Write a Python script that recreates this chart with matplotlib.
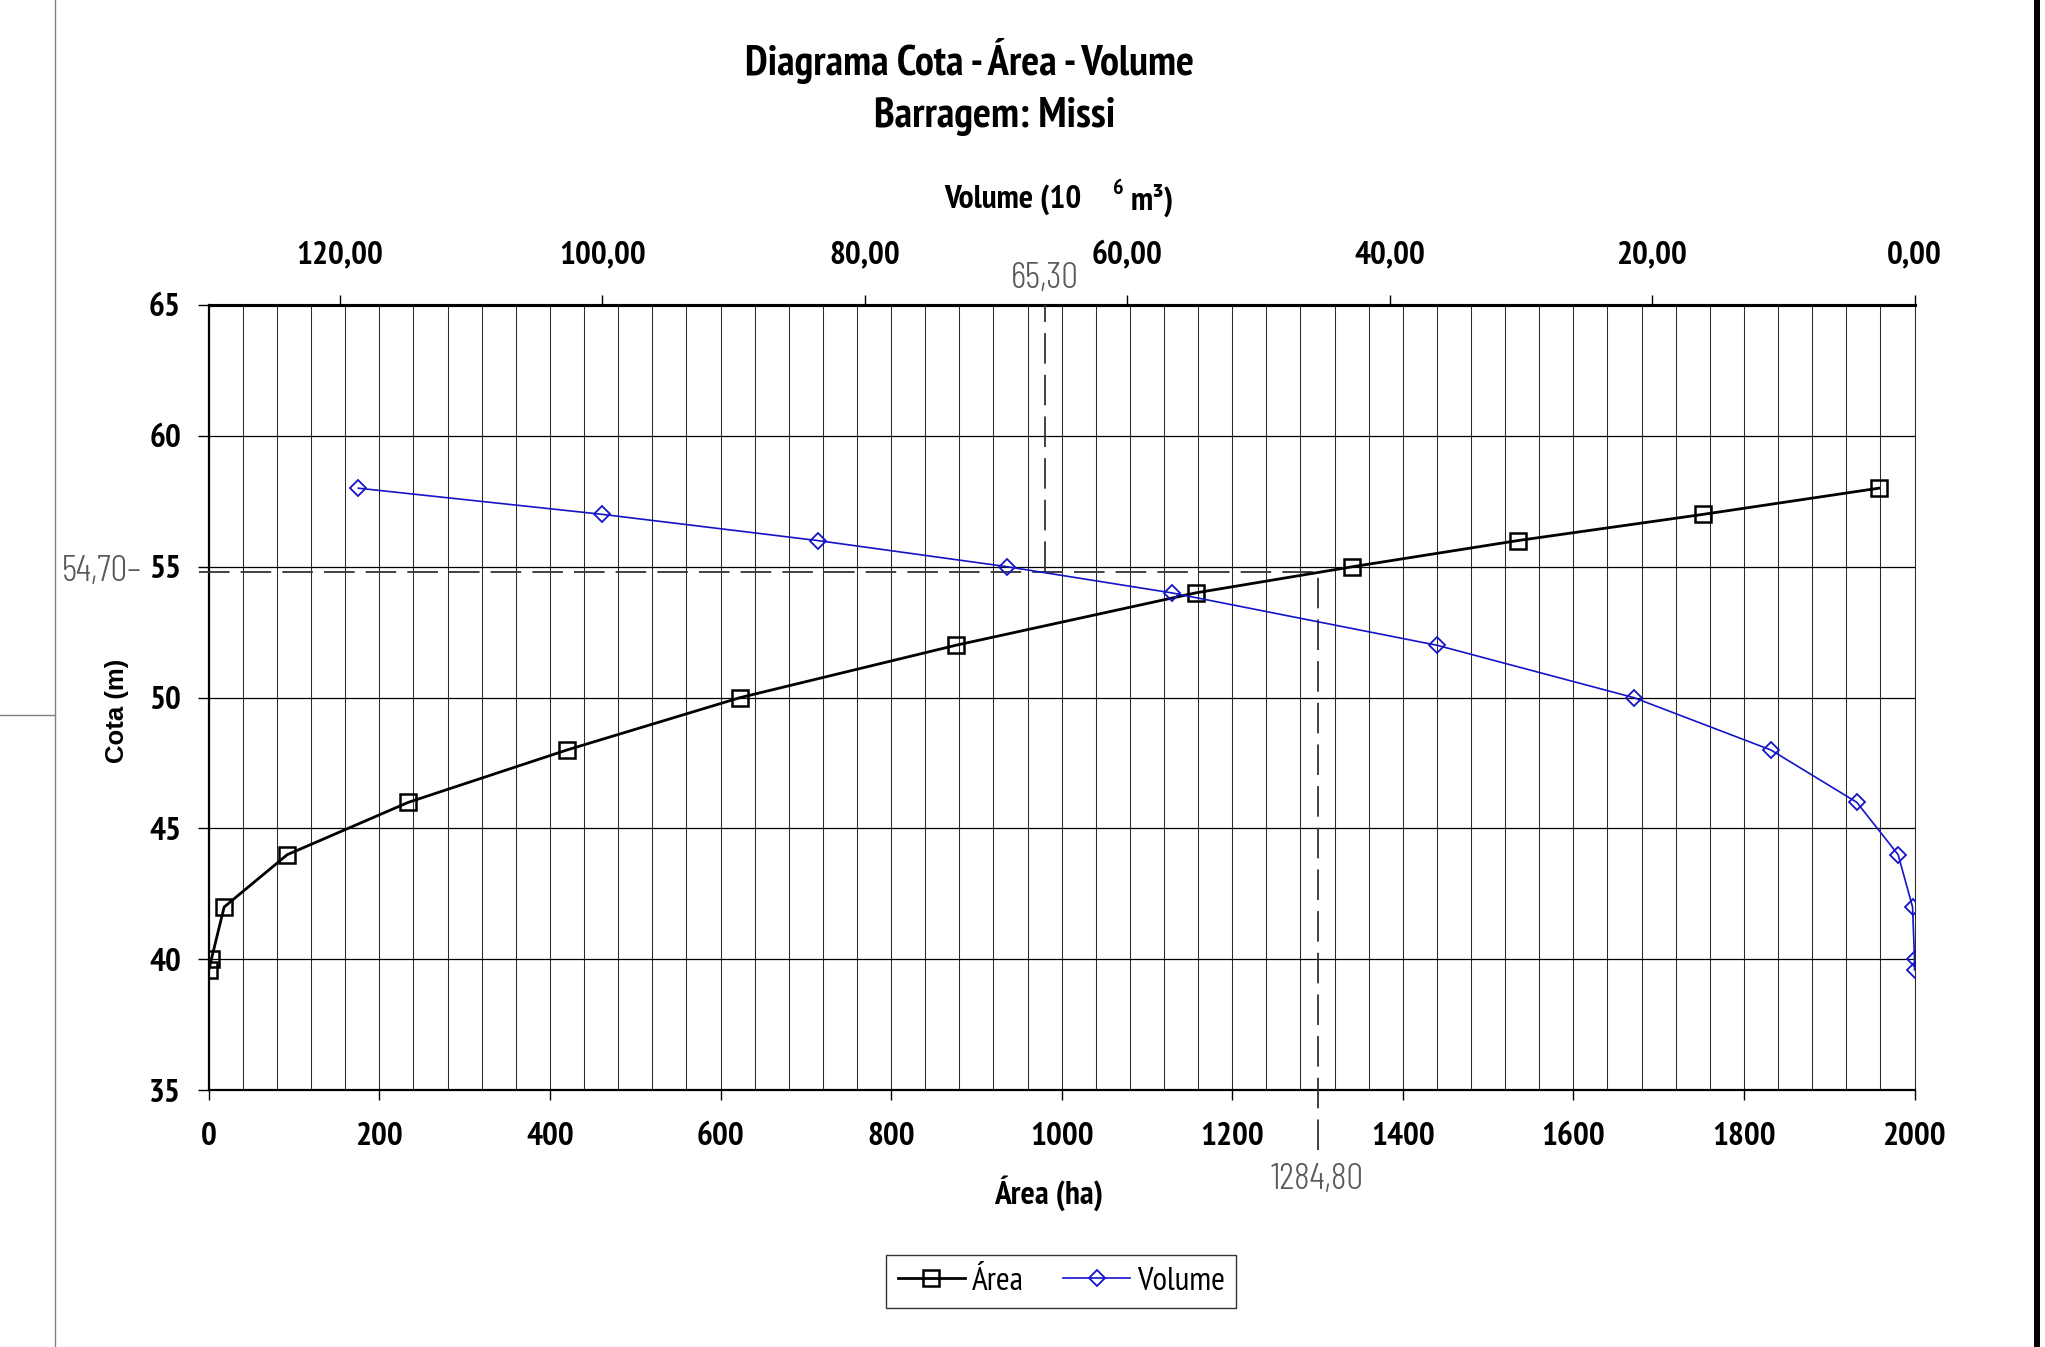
import matplotlib
matplotlib.use('Agg')
import matplotlib.pyplot as plt
from matplotlib.lines import Line2D
import numpy as np

# ---------------- data ----------------
cota = [39.6, 40, 42, 44, 46, 48, 50, 52, 54, 55, 56, 57, 58]
area_ha = [0, 3, 18, 92, 234, 420, 623, 876, 1157, 1341, 1535, 1752, 1958]
volume_hm3 = [0, 0, 0.15, 1.25, 4.4, 10.95, 21.4, 36.4, 56.6, 69.15, 83.6, 100.0, 118.6]

area_ticks = [0, 200, 400, 600, 800, 1000, 1200, 1400, 1600, 1800, 2000]
vol_ticks = [0, 20, 40, 60, 80, 100, 120]
cota_ticks = [35, 40, 45, 50, 55, 60, 65]

# reference (CAD overlay) lines: drawn positions and their printed labels
ref_cota_pos, ref_cota_label = 54.8, "54,70"
ref_area_pos, ref_area_label = 1300, "1284,80"
ref_vol_pos, ref_vol_label = 66.3, "65,30"

NARROW = ['PT Sans Narrow', 'Roboto Condensed', 'Cabin Condensed', 'Liberation Sans', 'DejaVu Sans']
THIN = ['Barlow Condensed', 'Liberation Sans', 'DejaVu Sans']
plt.rcParams['font.family'] = NARROW
plt.rcParams['lines.scale_dashes'] = False

GRAYTXT = '#5a5a5a'
BLUE = '#1414C8'

fig = plt.figure(figsize=(20.45, 13.47), dpi=100)
ax = fig.add_axes([0.1021, 0.1906, 0.8341, 0.5830])
ax.set_xlim(0, 2000)
ax.set_ylim(35, 65)
ax.set_xticks(area_ticks)
ax.set_xticks(np.arange(0, 2001, 40), minor=True)
ax.set_yticks(cota_ticks)
ax.set_xticklabels([str(v) for v in area_ticks])
ax.set_yticklabels([str(v) for v in cota_ticks])
ax.grid(which='minor', axis='x', color='#2b2b2b', lw=0.75)
ax.grid(which='major', axis='x', color='#2b2b2b', lw=0.75)
ax.grid(which='major', axis='y', color='black', lw=0.9)
ax.set_axisbelow(True)
ax.tick_params(axis='x', which='minor', length=0)
ax.tick_params(axis='x', which='major', direction='out', length=7, width=1,
               pad=16, labelsize=24)
ax.tick_params(axis='y', direction='out', length=8, width=1, pad=12, labelsize=24)
for lab in ax.get_xticklabels() + ax.get_yticklabels():
    lab.set_fontweight('bold')
for s in ['left', 'bottom']:
    ax.spines[s].set_linewidth(1.6)
ax.spines['top'].set_linewidth(2.2)
ax.spines['right'].set_linewidth(0.75)
ax.spines['right'].set_color('#2b2b2b')

ax2 = ax.twiny()
ax2.set_xlim(130, 0)
ax2.set_xticks(vol_ticks)
ax2.set_xticklabels([f"{v:.2f}".replace('.', ',') for v in vol_ticks])
ax2.tick_params(axis='x', direction='out', length=7, width=1, pad=18, labelsize=24)
for lab in ax2.get_xticklabels():
    lab.set_fontweight('bold')
for s in ['left', 'bottom', 'right']:
    ax2.spines[s].set_visible(False)
ax2.spines['top'].set_linewidth(2.2)

# series
ax.plot(area_ha, cota, color='black', lw=2.0, marker='s', ms=11, mfc='none',
        mec='black', mew=1.8, zorder=4, label='Área')
ax2.plot(volume_hm3, cota, color=BLUE, lw=1.2, marker='D', ms=8.5, mfc='none',
         mec=BLUE, mew=1.3, zorder=4, label='Volume')

# reference dashed lines
dash = (0, (22, 8))
ax.plot([-12, ref_area_pos], [ref_cota_pos, ref_cota_pos], ls=dash, color='#333333',
        lw=1.3, clip_on=False, zorder=3)
ax.plot([ref_area_pos, ref_area_pos], [32.7, ref_cota_pos], ls=dash, color='#333333',
        lw=1.3, clip_on=False, zorder=3)
ax2.plot([ref_vol_pos, ref_vol_pos], [ref_cota_pos, 65], ls=dash, color='#333333',
         lw=1.3, clip_on=False, zorder=3)

ax.text(-79, ref_cota_pos, ref_cota_label + '–', ha='right', va='center',
        fontsize=27, color=GRAYTXT, family=THIN, fontweight=300)
ax.text(ref_area_pos, 31.6, ref_area_label, ha='center', va='center',
        fontsize=27, color=GRAYTXT, family=THIN, fontweight=300)
ax2.text(ref_vol_pos, 66.0, ref_vol_label, ha='center', va='center',
         fontsize=27, color=GRAYTXT, family=THIN, fontweight=300)

# titles & labels
fig.text(0.474, 0.9547, 'Diagrama Cota - Área - Volume', ha='center', va='center',
         fontsize=30.5, fontweight='bold', family=NARROW)
fig.text(0.4866, 0.9135, 'Barragem: Missi', ha='center', va='center',
         fontsize=30.5, fontweight='bold', family=NARROW)
fig.text(0.5291, 0.8515, 'Volume (10', ha='right', va='center',
         fontsize=24, fontweight='bold', family=NARROW)
fig.text(0.5467, 0.8600, '6', ha='center', va='center',
         fontsize=16, fontweight='bold', family=NARROW)
fig.text(0.5530, 0.8515, 'm³)', ha='left', va='center',
         fontsize=24, fontweight='bold', family=NARROW)
fig.text(1049 / 2045, 1 - 1193 / 1347, 'Área (ha)', ha='center', va='center',
         fontsize=24, fontweight='bold', family=NARROW)
fig.text(117 / 2045, 1 - 711 / 1347, 'Cota (m)', ha='center', va='center',
         rotation=90, fontsize=18.5, fontweight='bold',
         family=['Liberation Sans', 'DejaVu Sans'])

# legend
h1, l1 = ax.get_legend_handles_labels()
h2, l2 = ax2.get_legend_handles_labels()
leg = fig.legend(h1 + h2, l1 + l2, loc='center', bbox_to_anchor=(0.519, 0.0486),
                 ncol=2, frameon=True, fancybox=False, edgecolor='black',
                 prop={'family': NARROW, 'size': 24}, handlelength=2.0,
                 handletextpad=0.2, columnspacing=1.2, borderpad=0.35)
leg.get_frame().set_linewidth(1.0)

# page decorations
fig.add_artist(Line2D([55 / 2045, 55 / 2045], [0, 1], color='#808080', lw=1.0,
                      transform=fig.transFigure))
fig.add_artist(Line2D([0, 55 / 2045], [1 - 715 / 1347, 1 - 715 / 1347], color='#808080',
                      lw=1.0, transform=fig.transFigure))
fig.add_artist(Line2D([2037 / 2045, 2037 / 2045], [0, 1], color='black', lw=4.3,
                      transform=fig.transFigure))

fig.savefig('out.png', dpi=100, facecolor='white')
